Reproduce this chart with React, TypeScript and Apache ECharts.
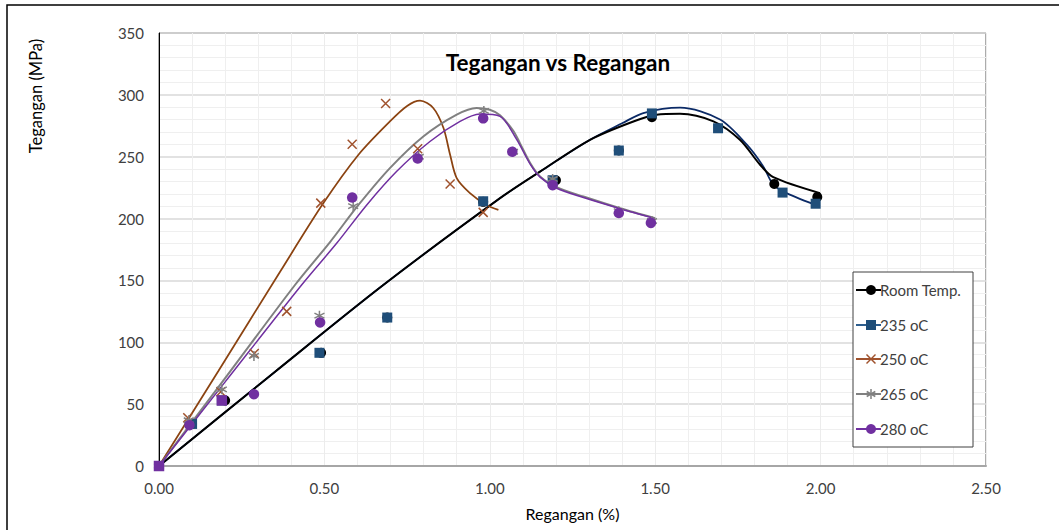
import React, { useEffect, useRef } from "react";
import * as echarts from "echarts";

// Measured points (markers)
const roomX = [0, 0.1, 0.2, 0.49, 0.69, 0.98, 1.2, 1.39, 1.49, 1.86, 1.99];
const roomY = [0, 34, 53, 91.5, 120, 213.5, 231, 255, 282, 228, 217.5];

const t235X = [0, 0.1, 0.19, 0.485, 0.69, 0.98, 1.19, 1.39, 1.49, 1.69, 1.885, 1.985];
const t235Y = [0, 34, 53, 91.5, 120, 214, 231, 255, 285, 273, 221, 212];

const t250X = [0, 0.087, 0.187, 0.288, 0.386, 0.489, 0.584, 0.685, 0.782, 0.88, 0.98];
const t250Y = [0, 39, 60, 91, 125, 212.5, 260, 293, 256.5, 228, 205];

const t265X = [0, 0.09, 0.19, 0.287, 0.485, 0.587, 0.785, 0.982, 1.07, 1.19, 1.39, 1.49];
const t265Y = [0, 37, 62, 89, 121.5, 210, 250, 287, 254, 232, 206, 198];

const t280X = [0, 0.092, 0.19, 0.287, 0.487, 0.584, 0.782, 0.98, 1.068, 1.19, 1.39, 1.487];
const t280Y = [0, 33, 53, 58, 116, 217, 248.5, 281, 254, 227, 204.5, 196.5];

// Smoothed curves
const roomCurveX = [0, 0.35, 0.678, 1.031, 1.152, 1.303, 1.434, 1.504, 1.575, 1.676, 1.756, 1.817, 1.857, 1.998];
const roomCurveY = [0, 76, 146.3, 216.5, 238, 263.7, 278.5, 284, 284.8, 278.6, 263.7, 243.5, 233.5, 220.6];

const c235X = [0, 0.35, 0.678, 1.031, 1.152, 1.303, 1.4, 1.464, 1.575, 1.696, 1.777, 1.827, 1.857, 1.897, 1.998];
const c235Y = [0, 76, 146.3, 216.5, 238, 263.7, 277, 285.3, 289.6, 280, 259.7, 242, 227.3, 220.6, 209.7];

const c250X = [0, 0.18, 0.366, 0.497, 0.603, 0.698, 0.75, 0.789, 0.829, 0.86, 0.88, 0.9, 0.94, 0.99, 1.026];
const c250Y = [0, 77, 157, 212.5, 251.6, 278.5, 291, 295.3, 289.4, 273.2, 251.6, 232.7, 220.6, 211, 207];

const c265X = [0, 0.2, 0.411, 0.517, 0.603, 0.698, 0.799, 0.9, 0.96, 1.0, 1.031, 1.071, 1.091, 1.122, 1.152, 1.202, 1.283, 1.394, 1.5];
const c265Y = [0, 71, 146.3, 181, 211, 240.8, 266.4, 284, 289.4, 288, 283.5, 271, 261, 244.9, 234, 225.4, 217.8, 208.4, 200.3];

const c280X = [0, 0.2, 0.431, 0.537, 0.628, 0.718, 0.819, 0.91, 0.97, 1.031, 1.081, 1.122, 1.152, 1.202, 1.283, 1.394, 1.494];
const c280Y = [0, 68, 146.3, 180, 211, 238, 262.3, 278.5, 284.5, 282.6, 264, 244, 233.5, 224.5, 217, 208, 200.5];

const seriesNames = ["Room Temp.", "235 oC", "250 oC", "265 oC", "280 oC"];
const xTicks = [0, 0.5, 1.0, 1.5, 2.0, 2.5];

const zip = (xs: number[], ys: number[]) => xs.map((x, i) => [x, ys[i]]);

const FONT = "Lato";
const C_BLACK = "#000000";
const C_BLUE_M = "#1F4E79";
const C_BLUE_L = "#0B2A66";
const C_BROWN_M = "#A0522D";
const C_BROWN_L = "#8B4311";
const C_GRAY = "#808080";
const C_PURPLE = "#7030A0";

const X_PATH = "path://M0,0L10,10M10,0L0,10";
const STAR_PATH = "path://M5,0L5,10M0.7,2.5L9.3,7.5M0.7,7.5L9.3,2.5";

export default function App() {
  const ref = useRef<HTMLDivElement>(null);
  useEffect(() => {
    if (!ref.current) return;
    const chart = echarts.init(ref.current, undefined, { renderer: "svg" });

    const curve = (name: string, xs: number[], ys: number[], color: string, width: number, z: number) => ({
      name: name + " curve",
      type: "line",
      data: zip(xs, ys),
      smooth: 0.3,
      showSymbol: false,
      symbol: "none",
      lineStyle: { color, width },
      z,
      silent: true,
    });

    const legendItems = [
      { y: 290, color: C_BLACK, sym: "circle", mcolor: C_BLACK },
      { y: 325, color: "#2E5E8E", sym: "rect", mcolor: C_BLUE_M },
      { y: 359, color: C_BROWN_M, sym: "x", mcolor: C_BROWN_M },
      { y: 394, color: C_GRAY, sym: "star", mcolor: C_GRAY },
      { y: 429, color: C_PURPLE, sym: "circle", mcolor: C_PURPLE },
    ];
    const legendGraphics: any[] = [
      {
        type: "rect",
        shape: { x: 853, y: 272, width: 120, height: 175 },
        style: { fill: "#ffffff", stroke: "#404040", lineWidth: 1 },
        z: 100,
      },
    ];
    legendItems.forEach((it, i) => {
      const mx = 871;
      legendGraphics.push({
        type: "line",
        shape: { x1: 856, y1: it.y, x2: 881, y2: it.y },
        style: { stroke: it.color, lineWidth: 2 },
        z: 101,
      });
      if (it.sym === "circle") {
        legendGraphics.push({ type: "circle", shape: { cx: mx, cy: it.y, r: 5 }, style: { fill: it.mcolor }, z: 102 });
      } else if (it.sym === "rect") {
        legendGraphics.push({ type: "rect", shape: { x: mx - 5, y: it.y - 5, width: 10, height: 10 }, style: { fill: it.mcolor }, z: 102 });
      } else if (it.sym === "x") {
        legendGraphics.push({ type: "line", shape: { x1: mx - 4.5, y1: it.y - 4.5, x2: mx + 4.5, y2: it.y + 4.5 }, style: { stroke: it.mcolor, lineWidth: 1.5 }, z: 102 });
        legendGraphics.push({ type: "line", shape: { x1: mx + 4.5, y1: it.y - 4.5, x2: mx - 4.5, y2: it.y + 4.5 }, style: { stroke: it.mcolor, lineWidth: 1.5 }, z: 102 });
      } else {
        legendGraphics.push({ type: "line", shape: { x1: mx, y1: it.y - 5, x2: mx, y2: it.y + 5 }, style: { stroke: it.mcolor, lineWidth: 1.5 }, z: 102 });
        legendGraphics.push({ type: "line", shape: { x1: mx - 4.3, y1: it.y - 2.5, x2: mx + 4.3, y2: it.y + 2.5 }, style: { stroke: it.mcolor, lineWidth: 1.5 }, z: 102 });
        legendGraphics.push({ type: "line", shape: { x1: mx - 4.3, y1: it.y + 2.5, x2: mx + 4.3, y2: it.y - 2.5 }, style: { stroke: it.mcolor, lineWidth: 1.5 }, z: 102 });
      }
      legendGraphics.push({
        type: "text",
        x: 880,
        y: it.y,
        style: {
          text: seriesNames[i],
          font: `15px ${FONT}`,
          fill: "#404040",
          textAlign: "left",
          textVerticalAlign: "middle",
        },
        z: 103,
      });
    });

    const option: any = {
      animation: false,
      backgroundColor: "#ffffff",
      grid: { left: 159, top: 33, right: 73, bottom: 64, show: true, borderColor: "#595959", borderWidth: 1, backgroundColor: "#ffffff" },
      title: {
        text: "Tegangan vs Regangan",
        left: 553,
        top: 46,
        textAlign: "center",
        textStyle: { fontFamily: FONT, fontWeight: "bold", fontSize: 22.5, color: "#000000" },
      },
      xAxis: {
        type: "value",
        min: 0,
        max: 2.5,
        interval: 0.5,
        name: "Regangan (%)",
        nameLocation: "middle",
        nameGap: 39,
        nameTextStyle: { fontFamily: FONT, fontSize: 16, color: "#000000" },
        axisLine: { show: true, lineStyle: { color: "#a6a6a6", width: 2 } },
        axisTick: { show: false },
        axisLabel: {
          margin: 14,
          fontFamily: FONT,
          fontSize: 15,
          color: "#404040",
          formatter: (v: number) => (xTicks.includes(v) ? v.toFixed(2) : ""),
        },
        splitLine: { show: true, lineStyle: { color: "#ececec", width: 1 } },
        minorTick: { show: false, splitNumber: 5 },
        minorSplitLine: { show: true, lineStyle: { color: "#efefef", width: 1 } },
      },
      yAxis: {
        type: "value",
        min: 0,
        max: 350,
        interval: 50,
        axisLine: { show: true, lineStyle: { color: "#000000", width: 1 } },
        axisTick: { show: false },
        axisLabel: { margin: 15, fontFamily: FONT, fontSize: 15, color: "#404040" },
        splitLine: { show: true, lineStyle: { color: "#d9d9d9", width: 1.5 } },
        minorTick: { show: false, splitNumber: 5 },
        minorSplitLine: { show: true, lineStyle: { color: "#efefef", width: 1 } },
      },
      graphic: [
        {
          type: "rect",
          shape: { x: 7, y: 5, width: 1200, height: 700 },
          style: { fill: "none", stroke: "#000000", lineWidth: 1.5 },
          silent: true,
          z: 200,
        },
        {
          type: "text",
          x: 36,
          y: 96,
          rotation: Math.PI / 2,
          style: {
            text: "Tegangan (MPa)",
            font: `16.5px ${FONT}`,
            fill: "#000000",
            textAlign: "center",
            textVerticalAlign: "middle",
          },
        },
        ...legendGraphics,
      ],
      series: [
        curve(seriesNames[1], c235X, c235Y, C_BLUE_L, 1.75, 2),
        curve(seriesNames[0], roomCurveX, roomCurveY, C_BLACK, 2, 3),
        curve(seriesNames[2], c250X, c250Y, C_BROWN_L, 1.75, 4),
        curve(seriesNames[3], c265X, c265Y, C_GRAY, 2, 5),
        curve(seriesNames[4], c280X, c280Y, C_PURPLE, 1.5, 6),
        {
          name: seriesNames[0],
          type: "scatter",
          data: zip(roomX, roomY),
          symbol: "circle",
          symbolSize: 10,
          itemStyle: { color: C_BLACK, opacity: 1 },
          z: 10,
        },
        {
          name: seriesNames[1],
          type: "scatter",
          data: zip(t235X, t235Y),
          symbol: "rect",
          symbolSize: 10,
          itemStyle: { color: C_BLUE_M, opacity: 1 },
          z: 11,
        },
        {
          name: seriesNames[2],
          type: "scatter",
          data: zip(t250X, t250Y),
          symbol: X_PATH,
          symbolSize: 9,
          itemStyle: { color: "rgba(0,0,0,0)", borderColor: C_BROWN_M, borderWidth: 1.5, opacity: 1 },
          z: 12,
        },
        {
          name: seriesNames[3],
          type: "scatter",
          data: zip(t265X, t265Y),
          symbol: STAR_PATH,
          symbolSize: 10,
          itemStyle: { color: "rgba(0,0,0,0)", borderColor: C_GRAY, borderWidth: 1.5, opacity: 1 },
          z: 13,
        },
        {
          name: seriesNames[4],
          type: "scatter",
          data: zip(t280X, t280Y).map((p, i) => ({
            value: p,
            symbol: i === 0 || i === 2 ? "rect" : "circle",
          })),
          symbolSize: 10.5,
          itemStyle: { color: C_PURPLE, opacity: 1 },
          z: 14,
        },
      ],
    };

    chart.setOption(option);
    return () => chart.dispose();
  }, []);

  return (
    <div
      ref={ref}
      style={{ position: "absolute", left: 0, top: 0, width: 1059, height: 530 }}
    />
  );
}
